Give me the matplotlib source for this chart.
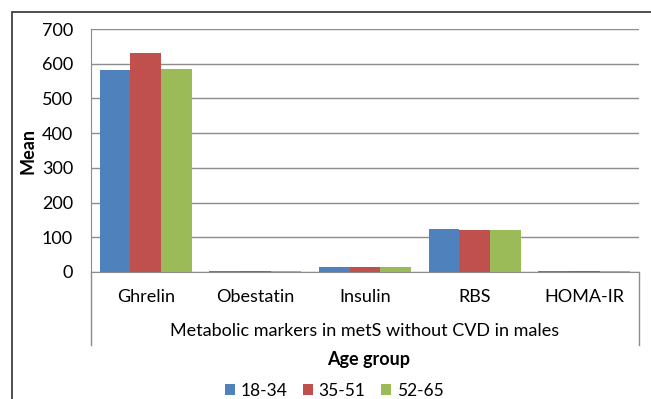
import matplotlib
matplotlib.use("Agg")
import matplotlib.pyplot as plt
import numpy as np
from matplotlib.lines import Line2D
from matplotlib.patches import Rectangle

categories = ["Ghrelin", "Obestatin", "Insulin", "RBS", "HOMA-IR"]
age_groups = ["18-34", "35-51", "52-65"]
vals_18_34 = [581, 3, 14, 123, 4]
vals_35_51 = [630, 3, 14, 121, 4]
vals_52_65 = [586, 3, 14, 121, 4]
yticks = [0, 100, 200, 300, 400, 500, 600, 700]

colors = ["#4F81BD", "#C0504D", "#9BBB59"]
plt.rcParams['font.family'] = ['Lato', 'DejaVu Sans']
fs = 13

W, H = 651, 399
fig = plt.figure(figsize=(W / 100, H / 100), dpi=100, facecolor="white")

# outer chart frame (right/bottom edges run off the image)
fig.add_artist(Rectangle((12 / W, -0.05), 1.0, 1 - 12 / H + 0.05, transform=fig.transFigure,
                         fill=False, edgecolor="#404040", linewidth=1.3))

left, right, top, bottom = 91, 639, 29, 272
ax = fig.add_axes([left / W, 1 - bottom / H, (right - left) / W, (bottom - top) / H])

x = np.arange(len(categories))
bw = 0.28
series = [vals_18_34, vals_35_51, vals_52_65]
for i, (vals, c) in enumerate(zip(series, colors)):
    ax.bar(x + (i - 1) * bw, vals, bw, color=c, label=age_groups[i], zorder=3)

ax.set_xlim(-0.5, len(categories) - 0.5)
ax.set_ylim(0, 700)
ax.set_yticks(yticks)
ax.set_yticklabels([str(t) for t in yticks], fontsize=fs)
ax.tick_params(axis="y", length=0, pad=13)
ax.set_xticks(x)
ax.set_xticklabels(categories, fontsize=fs)
ax.tick_params(axis="x", length=0, pad=12)
ax.grid(axis="y", color="#8c8c8c", linewidth=1, zorder=0)
for s in ["top", "right"]:
    ax.spines[s].set_visible(False)
ax.spines["left"].set_color("#8c8c8c")
ax.spines["bottom"].set_color("#8c8c8c")
ax.set_ylabel("Mean", fontsize=fs, fontweight="bold")
ax.yaxis.set_label_coords((37 - left) / (right - left), 0.5)

# multi-level category box lines
for xp in [left, right]:
    fig.add_artist(Line2D([xp / W, xp / W], [1 - bottom / H, 1 - 345 / H],
                          transform=fig.transFigure, color="#8c8c8c", linewidth=1))

fig.text((left + right) / 2 / W, 1 - 331 / H, "Metabolic markers in metS without CVD in males",
         ha="center", va="center", fontsize=fs)
fig.text(369 / W, 1 - 359 / H, "Age group",
         ha="center", va="center", fontsize=fs, fontweight="bold")

fig.legend(loc="center", bbox_to_anchor=(334 / W, 1 - 391 / H),
           ncol=3, frameon=False, fontsize=12.5, handlelength=0.6, handleheight=0.6,
           handletextpad=0.3, columnspacing=0.9, borderpad=0)

plt.savefig("out.png", dpi=100)
